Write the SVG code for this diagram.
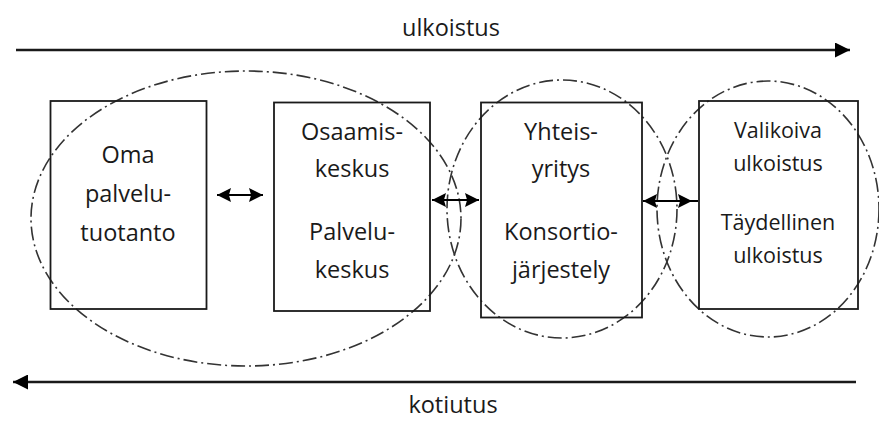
<svg xmlns="http://www.w3.org/2000/svg" width="879" height="421" viewBox="0 0 879 421">
  <style>
    .box { fill: none; stroke: #1a1a1a; stroke-width: 1.8; }
    .zone { fill: none; stroke: #333; stroke-width: 1.6; stroke-dasharray: 14 4 2 4; }
    .flow { fill: none; stroke: #1a1a1a; stroke-width: 2.4; }
    .link { fill: none; stroke: #000; stroke-width: 2.2; }
    text { font-family: "Open Sans", "Noto Sans", sans-serif; font-size: 23.5px; fill: #1a1a1a; text-anchor: middle; }
    .small { font-size: 21.5px; }
  </style>
  <defs>
    <marker id="big" viewBox="0 0 10 10" refX="10" refY="5" markerWidth="15" markerHeight="15" markerUnits="userSpaceOnUse" orient="auto-start-reverse">
      <path d="M0,0 L10,5 L0,10 Z" fill="#000"/>
    </marker>
    <marker id="tip" viewBox="0 0 10 10" refX="10" refY="5" markerWidth="14" markerHeight="14" markerUnits="userSpaceOnUse" orient="auto-start-reverse" preserveAspectRatio="none">
      <path d="M0,0 L10,5 L0,10 L1.5,5 Z" fill="#000"/>
    </marker>
  </defs>

  <!-- direction of travel -->
  <g id="ulkoistus">
    <line class="flow" x1="16" y1="50" x2="850" y2="50" marker-end="url(#big)"/>
    <text x="451" y="36">ulkoistus</text>
  </g>
  <g id="kotiutus">
    <line class="flow" x1="856" y1="382" x2="13" y2="382" marker-end="url(#big)"/>
    <text x="453" y="413">kotiutus</text>
  </g>

  <!-- grouping zones -->
  <g id="zones">
    <ellipse class="zone" cx="246" cy="218.5" rx="215" ry="147.5"/>
    <ellipse class="zone" cx="562" cy="209" rx="115" ry="129"/>
    <ellipse class="zone" cx="768" cy="209" rx="111" ry="128"/>
  </g>

  <g id="oma">
    <rect class="box" x="50.5" y="101" width="156" height="208"/>
    <text x="128" y="163">Oma</text>
    <text x="128" y="202">palvelu-</text>
    <text x="128" y="241">tuotanto</text>
  </g>

  <g id="osaamiskeskus">
    <rect class="box" x="274" y="102.5" width="156" height="208.5"/>
    <text x="352" y="140">Osaamis-</text>
    <text x="352" y="177">keskus</text>
    <text x="352" y="240">Palvelu-</text>
    <text x="352" y="278">keskus</text>
  </g>

  <g id="yhteisyritys">
    <rect class="box" x="481" y="102.5" width="161" height="215"/>
    <text x="561" y="140">Yhteis-</text>
    <text x="561" y="177">yritys</text>
    <text x="561" y="240">Konsortio-</text>
    <text x="561" y="278">järjestely</text>
  </g>

  <g id="ulkoistus-muodot">
    <rect class="box" x="699" y="101" width="159" height="208"/>
    <text class="small" x="778" y="138">Valikoiva</text>
    <text class="small" x="778" y="171">ulkoistus</text>
    <text class="small" x="778" y="230">Täydellinen</text>
    <text class="small" x="778" y="263">ulkoistus</text>
  </g>

  <!-- two-way links between stages -->
  <g id="connectors">
    <line class="link" x1="217" y1="195" x2="263" y2="195" marker-start="url(#tip)" marker-end="url(#tip)"/>
    <line class="link" x1="432" y1="200" x2="479" y2="200" marker-start="url(#tip)" marker-end="url(#tip)"/>
    <line class="link" x1="643" y1="201" x2="698" y2="201"/>
    <line class="link" x1="643" y1="201" x2="692" y2="201" marker-start="url(#tip)" marker-end="url(#tip)"/>
  </g>
</svg>
